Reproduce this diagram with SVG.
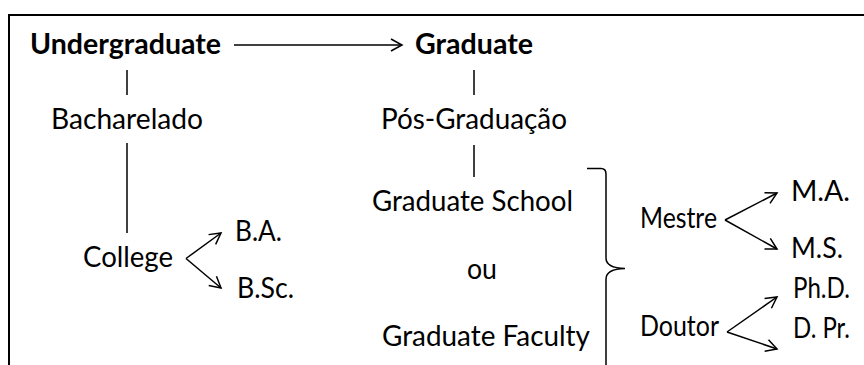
<svg xmlns="http://www.w3.org/2000/svg" width="864" height="365" viewBox="0 0 864 365">
<style>
text{font-family:Lato,"Open Sans","Liberation Sans",sans-serif;font-size:28px;fill:#000}
.b{font-weight:bold}
.ln{stroke:#000;stroke-width:1.5;fill:none}
.fr{stroke:#000;stroke-width:2;fill:none}
</style>
<defs>
<marker id="ah" markerUnits="userSpaceOnUse" markerWidth="16" markerHeight="16" refX="12" refY="7" orient="auto" viewBox="0 0 16 14">
<path d="M1,1 L12,7 L1,13" fill="none" stroke="#000" stroke-width="1.5"/>
</marker>
</defs>
<rect width="864" height="365" fill="#fff"/>
<path class="fr" d="M9,365 V15 H864"/>
<g id="undergraduate"><text class="b" x="30" y="54" textLength="191" lengthAdjust="spacingAndGlyphs">Undergraduate</text></g>
<g id="graduate"><text class="b" x="415" y="54" textLength="118" lengthAdjust="spacingAndGlyphs">Graduate</text></g>
<g id="bacharelado"><text x="51" y="129" textLength="152" lengthAdjust="spacingAndGlyphs">Bacharelado</text></g>
<g id="pos-graduacao"><text x="381" y="129" textLength="186" lengthAdjust="spacingAndGlyphs">Pós-Graduação</text></g>
<g id="college"><text x="83" y="267" textLength="90" lengthAdjust="spacingAndGlyphs">College</text></g>
<g id="ba"><text x="235" y="241" textLength="47" lengthAdjust="spacingAndGlyphs">B.A.</text></g>
<g id="bsc"><text x="237" y="298" textLength="57" lengthAdjust="spacingAndGlyphs">B.Sc.</text></g>
<g id="graduate-school"><text x="372" y="211" textLength="201" lengthAdjust="spacingAndGlyphs">Graduate School</text></g>
<g id="ou"><text x="467" y="279" textLength="30" lengthAdjust="spacingAndGlyphs">ou</text></g>
<g id="graduate-faculty"><text x="382" y="346" textLength="208" lengthAdjust="spacingAndGlyphs">Graduate Faculty</text></g>
<g id="mestre"><text x="640" y="228" textLength="77" lengthAdjust="spacingAndGlyphs">Mestre</text></g>
<g id="ma"><text x="791" y="201" textLength="59" lengthAdjust="spacingAndGlyphs">M.A.</text></g>
<g id="ms"><text x="791" y="258" textLength="52" lengthAdjust="spacingAndGlyphs">M.S.</text></g>
<g id="doutor"><text x="640" y="336" textLength="79" lengthAdjust="spacingAndGlyphs">Doutor</text></g>
<g id="phd"><text x="793" y="298" textLength="57" lengthAdjust="spacingAndGlyphs">Ph.D.</text></g>
<g id="dpr"><text x="793" y="338" textLength="57" lengthAdjust="spacingAndGlyphs">D. Pr.</text></g>
<g id="connectors">
<line class="ln" x1="234" y1="45" x2="402" y2="45" marker-end="url(#ah)"/>
<line class="ln" x1="127" y1="70" x2="127" y2="95"/>
<line class="ln" x1="474" y1="70" x2="474" y2="95"/>
<line class="ln" x1="127" y1="143" x2="127" y2="233"/>
<line class="ln" x1="474" y1="145" x2="474" y2="177"/>
<path class="ln" d="M186,258.5 L221,233" marker-end="url(#ah)"/>
<path class="ln" d="M186,258.5 L221,288" marker-end="url(#ah)"/>
<path class="ln" d="M725,220 L777,193" marker-end="url(#ah)"/>
<path class="ln" d="M725,220 L777,249" marker-end="url(#ah)"/>
<path class="ln" d="M727,332 L777,297" marker-end="url(#ah)"/>
<path class="ln" d="M727,332 L777,349" marker-end="url(#ah)"/>
<path class="ln" d="M587,168.5 H601 Q606,168.5 606,174 V258 Q606,268 625,268.5 Q606,269 606,279 V365"/>
</g>
</svg>
